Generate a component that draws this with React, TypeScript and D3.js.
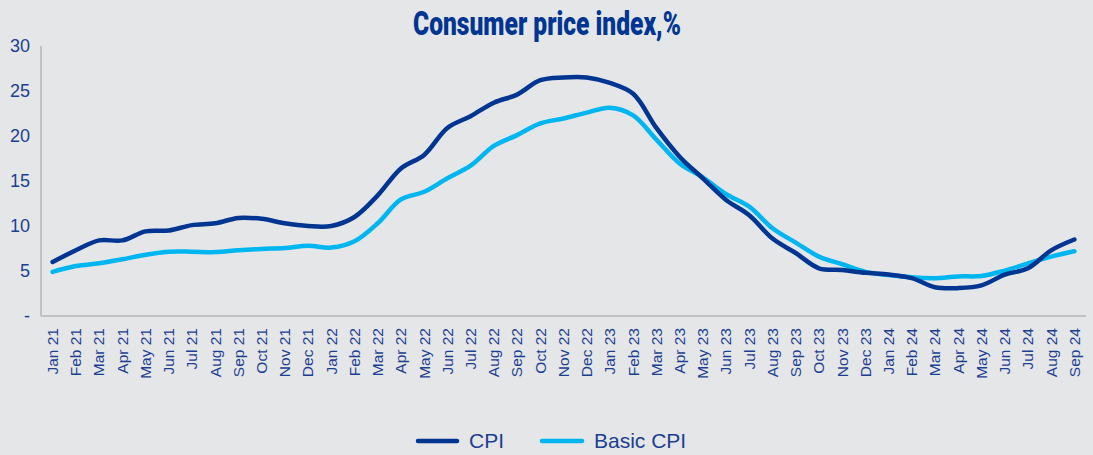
import React from "react";
import * as d3 from "d3";

const months = [
  "Jan 21", "Feb 21", "Mar 21", "Apr 21", "May 21", "Jun 21", "Jul 21", "Aug 21", "Sep 21", "Oct 21", "Nov 21", "Dec 21",
  "Jan 22", "Feb 22", "Mar 22", "Apr 22", "May 22", "Jun 22", "Jul 22", "Aug 22", "Sep 22", "Oct 22", "Nov 22", "Dec 22",
  "Jan 23", "Feb 23", "Mar 23", "Apr 23", "May 23", "Jun 23", "Jul 23", "Aug 23", "Sep 23", "Oct 23", "Nov 23", "Dec 23",
  "Jan 24", "Feb 24", "Mar 24", "Apr 24", "May 24", "Jun 24", "Jul 24", "Aug 24", "Sep 24",
];

const cpi = [
  6.0, 7.3, 8.4, 8.4, 9.4, 9.5, 10.1, 10.3, 10.9, 10.8, 10.3, 10.0,
  10.0, 11.0, 13.4, 16.4, 17.9, 20.9, 22.2, 23.7, 24.6, 26.2, 26.5, 26.5,
  25.9, 24.7, 20.9, 17.7, 15.3, 12.9, 11.2, 8.6, 7.0, 5.3, 5.1, 4.8,
  4.6, 4.2, 3.2, 3.1, 3.4, 4.6, 5.3, 7.3, 8.5,
];

const basicCpi = [
  4.9, 5.55, 5.85, 6.3, 6.8, 7.15, 7.15, 7.1, 7.3, 7.45, 7.55, 7.8,
  7.6, 8.3, 10.3, 12.95, 13.8, 15.3, 16.7, 18.9, 20.1, 21.4, 21.95, 22.6,
  23.15, 22.3, 19.6, 16.95, 15.4, 13.55, 12.15, 9.75, 8.15, 6.6, 5.75, 4.9,
  4.55, 4.3, 4.2, 4.4, 4.45, 5.05, 5.85, 6.6, 7.2,
];

const yTicks = [0, 5, 10, 15, 20, 25, 30];
const yTickLabels = ["-", "5", "10", "15", "20", "25", "30"];

const seriesNames = ["CPI", "Basic CPI"];
const seriesColors = ["#003591", "#00b6f0"];

export default function App() {
  const W = 1093;
  const H = 455;
  const x = d3.scaleBand<string>().domain(months).range([41, 1086]);
  const y = d3.scaleLinear().domain([0, 30]).range([316, 46]);
  const cx = (i: number) => (x(months[i]) as number) + x.bandwidth() / 2;
  const line = d3
    .line<number>()
    .x((_, i) => cx(i))
    .y((d) => y(d))
    .curve(d3.curveCatmullRom.alpha(0.5));

  const labelColor = "#1c3f91";
  const font = "'Liberation Sans', Arial, sans-serif";

  return (
    <svg
      width={W}
      height={H}
      style={{ position: "absolute", left: 0, top: 0, display: "block" }}
    >
      <rect x={0} y={0} width={W} height={H} fill="#e5e6e8" />
      <text
        x={547}
        y={35}
        textAnchor="middle"
        fontFamily="'Roboto', 'Liberation Sans', sans-serif"
        fontWeight={900}
        fontSize={33}
        fill="#003591"
        textLength={268}
        lengthAdjust="spacingAndGlyphs"
      >
        Consumer price index,%
      </text>

      {/* axes */}
      <line x1={41} x2={41} y1={y(30)} y2={y(0)} stroke="#b4b5b7" strokeWidth={1.5} />
      <line x1={41} x2={1086} y1={y(0)} y2={y(0)} stroke="#b4b5b7" strokeWidth={1.5} />

      {yTicks.map((t, i) => (
        <text
          key={t}
          x={30}
          y={y(t)}
          dy="0.35em"
          textAnchor="end"
          fontFamily={font}
          fontSize={18}
          fill={labelColor}
        >
          {yTickLabels[i]}
        </text>
      ))}

      {months.map((m, i) => (
        <text
          key={m}
          transform={`translate(${cx(i)},328) rotate(-90)`}
          dy="0.35em"
          textAnchor="end"
          fontFamily={font}
          fontSize={15.5}
          fill={labelColor}
        >
          {m}
        </text>
      ))}

      <path d={line(basicCpi) || ""} fill="none" stroke={seriesColors[1]} strokeWidth={4.5} strokeLinecap="round" strokeLinejoin="round" />
      <path d={line(cpi) || ""} fill="none" stroke={seriesColors[0]} strokeWidth={4.5} strokeLinecap="round" strokeLinejoin="round" />

      {/* legend */}
      <g>
        <line x1={418} x2={457} y1={441} y2={441} stroke={seriesColors[0]} strokeWidth={4.5} strokeLinecap="round" />
        <text x={469} y={441} dy="0.35em" fontFamily={font} fontSize={21} fill={labelColor}>
          {seriesNames[0]}
        </text>
        <line x1={542} x2={582} y1={441} y2={441} stroke={seriesColors[1]} strokeWidth={4.5} strokeLinecap="round" />
        <text x={594} y={441} dy="0.35em" fontFamily={font} fontSize={21} fill={labelColor}>
          {seriesNames[1]}
        </text>
      </g>
    </svg>
  );
}
